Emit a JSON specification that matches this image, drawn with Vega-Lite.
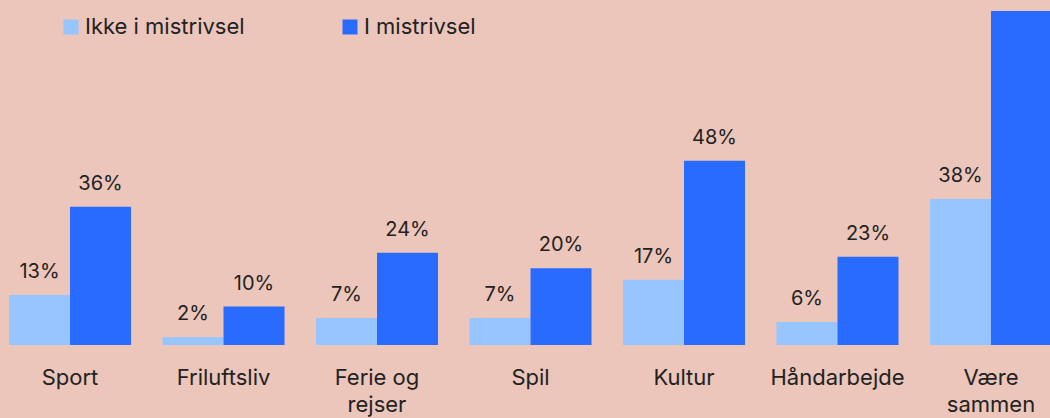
{
  "$schema": "https://vega.github.io/schema/vega-lite/v6.json",
  "width": 1050,
  "height": 418,
  "autosize": "none",
  "padding": 0,
  "background": "#ECC6BA",
  "config": {"view": {"stroke": null}, "font": "Inter"},
  "data": {"values": [
    {"kategori": "Sport", "gruppe": "Ikke i mistrivsel", "andel": 13},
    {"kategori": "Sport", "gruppe": "I mistrivsel", "andel": 36},
    {"kategori": "Friluftsliv", "gruppe": "Ikke i mistrivsel", "andel": 2},
    {"kategori": "Friluftsliv", "gruppe": "I mistrivsel", "andel": 10},
    {"kategori": "Ferie og rejser", "gruppe": "Ikke i mistrivsel", "andel": 7},
    {"kategori": "Ferie og rejser", "gruppe": "I mistrivsel", "andel": 24},
    {"kategori": "Spil", "gruppe": "Ikke i mistrivsel", "andel": 7},
    {"kategori": "Spil", "gruppe": "I mistrivsel", "andel": 20},
    {"kategori": "Kultur", "gruppe": "Ikke i mistrivsel", "andel": 17},
    {"kategori": "Kultur", "gruppe": "I mistrivsel", "andel": 48},
    {"kategori": "Håndarbejde", "gruppe": "Ikke i mistrivsel", "andel": 6},
    {"kategori": "Håndarbejde", "gruppe": "I mistrivsel", "andel": 23},
    {"kategori": "Være sammen", "gruppe": "Ikke i mistrivsel", "andel": 38},
    {"kategori": "Være sammen", "gruppe": "I mistrivsel", "andel": 87}
  ]},
  "encoding": {
    "x": {
      "field": "kategori", "type": "nominal", "sort": null,
      "scale": {"range": [9, 1052], "paddingInner": 0.205, "paddingOuter": 0},
      "axis": {
        "title": null, "domain": false, "ticks": false, "labelAngle": 0,
        "offset": -73,
        "labelFontSize": 22, "labelColor": "#222222", "labelPadding": 39,
        "labelLineHeight": 27, "labelBaseline": "alphabetic",
        "labelExpr": "datum.label == 'Ferie og rejser' ? ['Ferie og', 'rejser'] : datum.label == 'Være sammen' ? ['Være', 'sammen'] : datum.label"
      }
    },
    "xOffset": {
      "field": "gruppe", "type": "nominal",
      "sort": ["Ikke i mistrivsel", "I mistrivsel"],
      "scale": {"paddingInner": 0, "paddingOuter": 0}
    },
    "y": {
      "field": "andel", "type": "quantitative",
      "scale": {"domain": [0, 100], "range": [345, -39]},
      "axis": null
    }
  },
  "layer": [
    {
      "mark": {"type": "bar"},
      "encoding": {
        "color": {
          "field": "gruppe", "type": "nominal",
          "sort": ["Ikke i mistrivsel", "I mistrivsel"],
          "scale": {"domain": ["Ikke i mistrivsel", "I mistrivsel"], "range": ["#97C5FF", "#2A6BFF"]},
          "legend": {
            "title": null, "orient": "none", "legendX": 60, "legendY": 16,
            "direction": "horizontal", "symbolType": "square", "symbolSize": 225,
            "symbolStrokeWidth": 0, "labelFontSize": 22, "labelColor": "#222222",
            "labelOffset": 3, "columnPadding": 94, "labelLimit": 300
          }
        }
      }
    },
    {
      "transform": [{"filter": "datum.andel < 80"}],
      "mark": {"type": "text", "dy": -17, "baseline": "alphabetic", "fontSize": 20, "color": "#222222", "text": {"expr": "datum.andel + '%'"}},
      "encoding": {
        "detail": {"field": "gruppe"}
      }
    }
  ]
}
